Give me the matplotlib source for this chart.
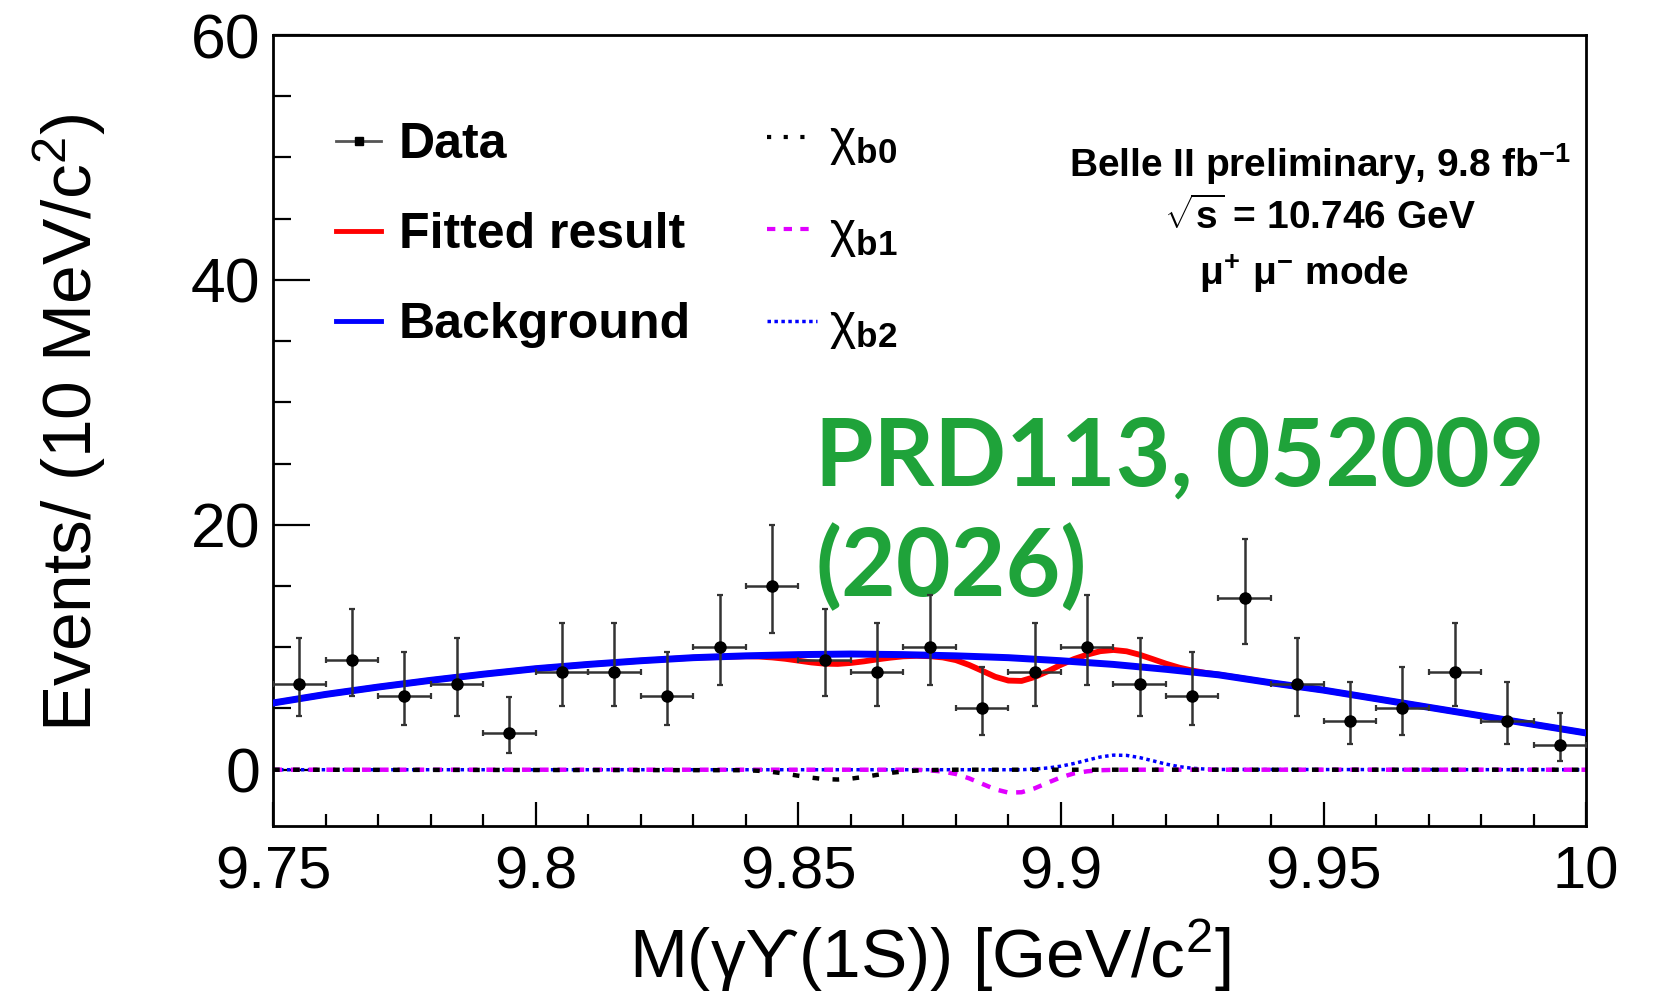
import numpy as np
import matplotlib.pyplot as plt
from matplotlib.lines import Line2D

plt.rcParams['font.family'] = ['Liberation Sans', 'DejaVu Sans']
plt.rcParams['mathtext.fontset'] = 'custom'
plt.rcParams['mathtext.rm'] = 'Liberation Sans'
plt.rcParams['mathtext.bf'] = 'Liberation Sans:bold'
plt.rcParams['mathtext.default'] = 'regular'

# binned data, 10 MeV bins
bin_centers = np.round(9.755 + 0.01 * np.arange(25), 3)
counts = [7, 9, 6, 7, 3, 8, 8, 6, 10, 15, 9, 8, 10, 5, 8, 10, 7, 6, 14, 7, 4, 5, 8, 4, 2]
# asymmetric poisson errors per bin
err_lo = [2.58, 2.94, 2.38, 2.58, 1.63, 2.77, 2.77, 2.38, 3.11, 3.83, 2.94, 2.77, 3.11,
          2.16, 2.77, 3.11, 2.58, 2.38, 3.70, 2.58, 1.91, 2.16, 2.77, 1.91, 1.29]
err_hi = [3.77, 4.11, 3.58, 3.77, 2.92, 3.95, 3.95, 3.58, 4.27, 4.95, 4.11, 3.95, 4.27,
          3.38, 3.95, 4.27, 3.77, 3.58, 4.83, 3.77, 3.16, 3.38, 3.95, 3.16, 2.64]

# background shape
bkg_x = np.round(9.75 + 0.01 * np.arange(26), 2)
bkg_y = [5.45, 6.15, 6.75, 7.30, 7.80, 8.25, 8.60, 8.90, 9.15, 9.30, 9.40, 9.45, 9.40,
         9.30, 9.15, 8.90, 8.60, 8.20, 7.75, 7.10, 6.50, 5.80, 5.10, 4.40, 3.70, 3.00]

# signal region, fine grid
sig_x = np.linspace(9.84, 9.93, 37)
chib0 = [-0.04, -0.09, -0.18, -0.32, -0.49, -0.65, -0.77, -0.80, -0.73, -0.59, -0.42, -0.26,
         -0.14, -0.07, -0.03, -0.01, 0, 0, 0, 0, 0, 0, 0, 0, 0, 0, 0, 0, 0, 0, 0, 0, 0, 0, 0, 0, 0]
chib1 = [0, 0, 0, 0, 0, 0, 0, 0, 0, 0, 0, 0, 0, -0.01, -0.05, -0.15, -0.35, -0.70, -1.15,
         -1.60, -1.87, -1.84, -1.52, -1.06, -0.62, -0.30, -0.13, -0.04, -0.01, 0, 0, 0, 0, 0, 0, 0, 0]
chib2 = [0, 0, 0, 0, 0, 0, 0, 0, 0, 0, 0, 0, 0, 0, 0, 0, 0, 0, 0, 0, 0, 0, 0.06, 0.14, 0.29,
         0.51, 0.78, 1.04, 1.19, 1.17, 0.99, 0.73, 0.46, 0.25, 0.12, 0.05, 0.02]
fit_sig = [9.26, 9.24, 9.17, 9.06, 8.91, 8.76, 8.66, 8.64, 8.72, 8.85, 9.01, 9.15, 9.26, 9.30,
           9.27, 9.17, 8.95, 8.56, 8.08, 7.59, 7.28, 7.25, 7.57, 8.04, 8.57, 9.04, 9.40, 9.68,
           9.78, 9.67, 9.39, 9.03, 8.66, 8.34, 8.10, 7.91, 7.77]


def component(vals):
    x = np.concatenate([[9.75], sig_x, [10.0]])
    y = np.concatenate([[0.0], vals, [0.0]])
    return x, y


bkg_arr = np.asarray(bkg_y)
lo = bkg_x < 9.84
hi = bkg_x > 9.93
fit_x = np.concatenate([bkg_x[lo], sig_x, bkg_x[hi]])
fit_y = np.concatenate([bkg_arr[lo], fit_sig, bkg_arr[hi]])

fig = plt.figure(figsize=(16.55, 10.07), dpi=100)
ax = fig.add_axes([0.165, 0.1797, 0.7934, 0.7855])

# signal components
x0, y0 = component(chib0)
x1, y1 = component(chib1)
x2, y2 = component(chib2)
ax.plot(x2, y2, color='blue', lw=2.5, ls=(0, (1, 1)), zorder=2)
ax.plot(x1, y1, color='#e000ff', lw=3.2, ls=(0, (2, 2)), zorder=2)
ax.plot(x0, y0, color='black', lw=3.2, ls=(0, (1.5, 3)), zorder=2)

ax.plot(fit_x, fit_y, color='red', lw=4.2, zorder=3)
ax.plot(bkg_x, bkg_y, color='blue', lw=5, zorder=4)

ax.errorbar(bin_centers, counts, yerr=[err_lo, err_hi], xerr=0.005, fmt='o', color='black',
            ecolor='#333333', elinewidth=1.8, capsize=2.5, capthick=1.6, markersize=8, zorder=5)

ax.set_xlim(9.75, 10.0)
ax.set_ylim(-4.6, 60)
ax.set_xticks([9.75, 9.8, 9.85, 9.9, 9.95, 10.0])
ax.set_xticklabels(['9.75', '9.8', '9.85', '9.9', '9.95', '10'])
ax.set_xticks(np.arange(9.75, 10.0, 0.01), minor=True)
ax.set_yticks([0, 20, 40, 60])
ax.set_yticks(np.arange(0, 60, 5), minor=True)
ax.tick_params(axis='both', which='both', direction='in', width=1.6)
ax.tick_params(axis='y', which='major', length=26.5, labelsize=45, pad=9)
ax.tick_params(axis='y', which='minor', length=13)
ax.tick_params(axis='x', which='major', length=17, labelsize=43, pad=14)
ax.tick_params(axis='x', which='minor', length=8.5)
for sp in ax.spines.values():
    sp.set_linewidth(2)

ax.set_xlabel('M(γϒ(1S)) [GeV/c$^{2}$]', fontsize=50)
ax.xaxis.set_label_coords(0.5, -0.115)
ax.xaxis.label.set_va('top')
ax.set_ylabel(r'Events/ (10 MeV/c$^{2}$)', fontsize=50)
ax.yaxis.set_label_coords(-0.126, 0.51)

# legends
h_data = Line2D([], [], color='#555555', lw=2, marker='s', markersize=6, markerfacecolor='black',
                markeredgecolor='black')
h_fit = Line2D([], [], color='red', lw=3.5)
h_bkg = Line2D([], [], color='blue', lw=3.5)
leg1 = ax.legend([h_data, h_fit, h_bkg], ['Data', 'Fitted result', 'Background'],
                 loc='upper left', bbox_to_anchor=(0.048, 0.89), frameon=False,
                 prop={'size': 36, 'weight': 'bold'}, handlelength=0.9, handletextpad=0.36,
                 labelspacing=0.88, borderpad=0, borderaxespad=0)
ax.add_artist(leg1)

h0 = Line2D([], [], color='black', lw=3, ls=(0, (1, 3)))
h1 = Line2D([], [], color='#e000ff', lw=3, ls=(0, (2, 2)))
h2 = Line2D([], [], color='blue', lw=2.5, ls=(0, (1, 1)))
leg2 = ax.legend([h0, h1, h2], [r'χ$_{\mathbf{b0}}$', r'χ$_{\mathbf{b1}}$', r'χ$_{\mathbf{b2}}$'],
                 loc='upper left', bbox_to_anchor=(0.376, 0.894), frameon=False,
                 prop={'size': 36}, handlelength=1.0, handletextpad=0.24,
                 labelspacing=0.88, borderpad=0, borderaxespad=0)

ax.text(0.797, 0.837, r'Belle II preliminary, 9.8 fb$^{\mathbf{-1}}$', transform=ax.transAxes,
        ha='center', va='center', fontsize=28, fontweight='bold')
ax.text(0.797, 0.770, r'$\mathbf{\sqrt{s}}$ = 10.746 GeV', transform=ax.transAxes,
        ha='center', va='center', fontsize=28, fontweight='bold')
ax.text(0.785, 0.699, r'$\mu^{+}\ \mu^{-}$ mode', transform=ax.transAxes,
        ha='center', va='center', fontsize=28, fontweight='bold')

ax.text(0.413, 0.430, 'PRD113, 052009', transform=ax.transAxes, ha='left', va='baseline',
        fontsize=68, fontweight='bold', color='#1fa33a', family='Lato')
ax.text(0.413, 0.291, '(2026)', transform=ax.transAxes, ha='left', va='baseline',
        fontsize=68, fontweight='bold', color='#1fa33a', family='Lato')

fig.savefig('out.png', dpi=100)
